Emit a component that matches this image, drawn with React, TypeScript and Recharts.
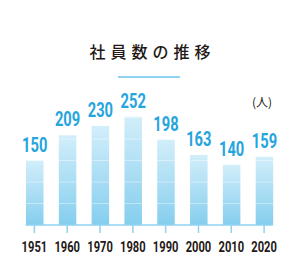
import React from "react";
import { BarChart, Bar, XAxis, YAxis, LabelList, ReferenceLine } from "recharts";

const years = ["1951", "1960", "1970", "1980", "1990", "2000", "2010", "2020"];
const employees = [150, 209, 230, 252, 198, 163, 140, 159];
const gridValues = [50, 100, 150, 200, 250];

const data = years.map((year, i) => ({ year, count: employees[i] }));

const DIGIT_FONT = "Roboto, 'Liberation Sans', sans-serif";

function YearTick(props: any) {
  const { x, y, payload } = props;
  return (
    <text
      transform={`translate(${x},${y + 17}) scale(0.72,1)`}
      textAnchor="middle"
      fontFamily={DIGIT_FONT}
      fontWeight={700}
      fontSize={15.5}
      fill="#231815"
    >
      {payload.value}
    </text>
  );
}

function ValueLabel(props: any) {
  const { x, y, width, value } = props;
  return (
    <text
      transform={`translate(${x + width / 2},${y - 9}) scale(0.7,1)`}
      textAnchor="middle"
      fontFamily={DIGIT_FONT}
      fontWeight={700}
      fontSize={21}
      fill="#26a5dd"
    >
      {value}
    </text>
  );
}

// axis line runs from the first bar's left edge to the last bar's right edge
function AxisLine(props: any) {
  const { x1, x2, y1 } = props;
  return <line x1={x1 + 7.6} x2={x2 - 7.6} y1={y1} y2={y1} stroke="#8fd3f0" strokeWidth={1.5} />;
}

export default function App() {
  return (
    <div style={{ position: "absolute", left: 0, top: 0, width: 300, height: 280, background: "#fff" }}>
      <div
        style={{
          position: "absolute",
          top: 40,
          left: 0,
          width: 305,
          textAlign: "center",
          fontFamily: "'Noto Sans CJK JP', sans-serif",
          fontSize: 16,
          fontWeight: 500,
          letterSpacing: 5,
          color: "#231815",
          lineHeight: "22px",
        }}
      >
        社員数の推移
      </div>
      <div style={{ position: "absolute", top: 76, left: 118, width: 62, height: 1.5, background: "#8fd3f0" }} />
      <div
        style={{
          position: "absolute",
          top: 94,
          left: 252,
          fontFamily: "'Noto Sans CJK JP', sans-serif",
          fontSize: 12,
          color: "#231815",
          lineHeight: "16px",
        }}
      >
        (人)
      </div>
      <BarChart width={300} height={280} data={data} margin={{ top: 96, right: 19.5, bottom: 25, left: 18 }} barSize={17.5}>
        <defs>
          <linearGradient id="barFill" x1="0" y1="0" x2="0" y2="1">
            <stop offset="0%" stopColor="#d2eefa" />
            <stop offset="100%" stopColor="#85ceee" />
          </linearGradient>
        </defs>
        <XAxis
          dataKey="year"
          axisLine={false}
          tickLine={{ stroke: "#8fd3f0", strokeWidth: 1.5 }}
          tickSize={8}
          height={30}
          interval={0}
          tick={<YearTick />}
        />
        <YAxis hide domain={[0, 300]} />
        <Bar dataKey="count" fill="url(#barFill)" isAnimationActive={false}>
          <LabelList dataKey="count" content={<ValueLabel />} />
        </Bar>
        {gridValues.map((v) => (
          <ReferenceLine key={v} y={v} stroke="#ffffff" strokeOpacity={0.4} strokeWidth={1} />
        ))}
        <ReferenceLine y={0} shape={<AxisLine />} />
      </BarChart>
    </div>
  );
}
